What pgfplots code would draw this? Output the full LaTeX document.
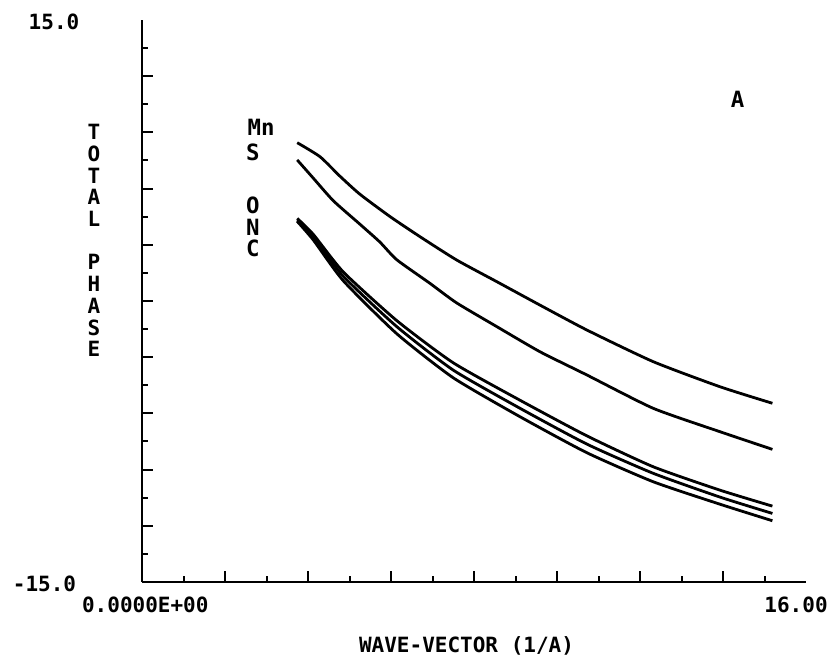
\documentclass[border=0pt]{standalone}
\usepackage{pgfplots}
\pgfplotsset{compat=1.18}
\usepackage{fontspec}
\newfontfamily\plotfont{DejaVu Sans Mono}
\newcommand{\pf}{\plotfont\bfseries\fontsize{10.5}{12}\selectfont}
\newcommand{\pfl}{\plotfont\bfseries\fontsize{11.2}{13}\selectfont}
\pgfplotsset{crv/.style={black, no marks, line width=1.4pt, line join=round, smooth, tension=0.35}}
\begin{document}
\begin{tikzpicture}
\begin{axis}[
  x=20.75pt, y=9.3667pt,
  xmin=0, xmax=16, ymin=-15, ymax=15,
  axis lines=left,
  axis line style={-, line width=1.4pt},
  tick align=inside,
  xtick={2,4,...,14},
  minor xtick={1,3,...,15},
  ytick={-12,-9,...,12},
  minor ytick={-13.5,-10.5,-7.5,-4.5,-1.5,1.5,4.5,7.5,10.5,13.5},
  xticklabels={}, yticklabels={},
  major tick length=5.5pt,
  minor tick length=2.8pt,
  every tick/.style={line width=1pt, black},
  clip=false,
]
\coordinate (o) at (axis cs:0,-15);
% Mn
\addplot[crv] coordinates {
(3.74,8.45) (4.29,7.70) (4.77,6.66) (5.25,5.70) (5.98,4.50) (6.70,3.43)
(7.58,2.19) (8.55,1.03) (9.59,-0.22) (10.72,-1.55) (12.32,-3.24) (13.93,-4.58) (15.19,-5.46)};
% S
\addplot[crv] coordinates {
(3.74,7.53) (4.13,6.55) (4.61,5.35) (5.25,4.10) (5.73,3.15) (6.14,2.20)
(6.94,0.94) (7.58,-0.10) (8.55,-1.37) (9.59,-2.71) (10.72,-3.95) (12.32,-5.73) (13.93,-6.98) (15.19,-7.92)};
% O
\addplot[crv] coordinates {
(3.74,4.41) (4.13,3.55) (4.85,1.55) (6.14,-1.05) (7.50,-3.30) (9.11,-5.30)
(10.72,-7.20) (12.32,-8.85) (13.93,-10.10) (15.19,-10.95)};
% N
\addplot[crv] coordinates {
(3.74,4.32) (4.13,3.41) (4.85,1.32) (6.14,-1.37) (7.50,-3.69) (9.11,-5.73)
(10.72,-7.64) (12.32,-9.20) (13.93,-10.47) (15.19,-11.34)};
% C
\addplot[crv] coordinates {
(3.74,4.25) (4.13,3.25) (4.85,1.08) (6.14,-1.75) (7.50,-4.10) (9.11,-6.18)
(10.72,-8.10) (12.32,-9.65) (13.93,-10.85) (15.19,-11.73)};
% tick labels
\node[font=\pf, inner sep=0] at (axis cs:-2.12,14.89) {15.0};
\node[font=\pf, inner sep=0] at (axis cs:-2.35,-15.11) {-15.0};
\node[font=\pf, inner sep=0] at (axis cs:0.08,-16.21) {0.0000E+00};
\node[font=\pf, inner sep=0] at (axis cs:15.76,-16.21) {16.00};
\node[font=\pf, inner sep=0] at (axis cs:7.82,-18.40) {WAVE-VECTOR (1/A)};
% y label letters
\node[font=\pf, inner sep=0] at (axis cs:-1.157,9.02) {T};
\node[font=\pf, inner sep=0] at (axis cs:-1.157,7.86) {O};
\node[font=\pf, inner sep=0] at (axis cs:-1.157,6.70) {T};
\node[font=\pf, inner sep=0] at (axis cs:-1.157,5.55) {A};
\node[font=\pf, inner sep=0] at (axis cs:-1.157,4.39) {L};
\node[font=\pf, inner sep=0] at (axis cs:-1.157,2.08) {P};
\node[font=\pf, inner sep=0] at (axis cs:-1.157,0.90) {H};
\node[font=\pf, inner sep=0] at (axis cs:-1.157,-0.25) {A};
\node[font=\pf, inner sep=0] at (axis cs:-1.157,-1.41) {S};
\node[font=\pf, inner sep=0] at (axis cs:-1.157,-2.57) {E};
% curve labels
\node[font=\pfl, inner sep=0] at (axis cs:2.87,9.29) {Mn};
\node[font=\pfl, inner sep=0] at (axis cs:2.67,7.95) {S};
\node[font=\pfl, inner sep=0] at (axis cs:2.67,5.12) {O};
\node[font=\pfl, inner sep=0] at (axis cs:2.67,3.95) {N};
\node[font=\pfl, inner sep=0] at (axis cs:2.67,2.83) {C};
\node[font=\pfl, inner sep=0] at (axis cs:14.35,10.78) {A};
\end{axis}
\path (o) ++(-71pt,-45pt) rectangle ++(419pt,336pt);
\end{tikzpicture}
\end{document}
